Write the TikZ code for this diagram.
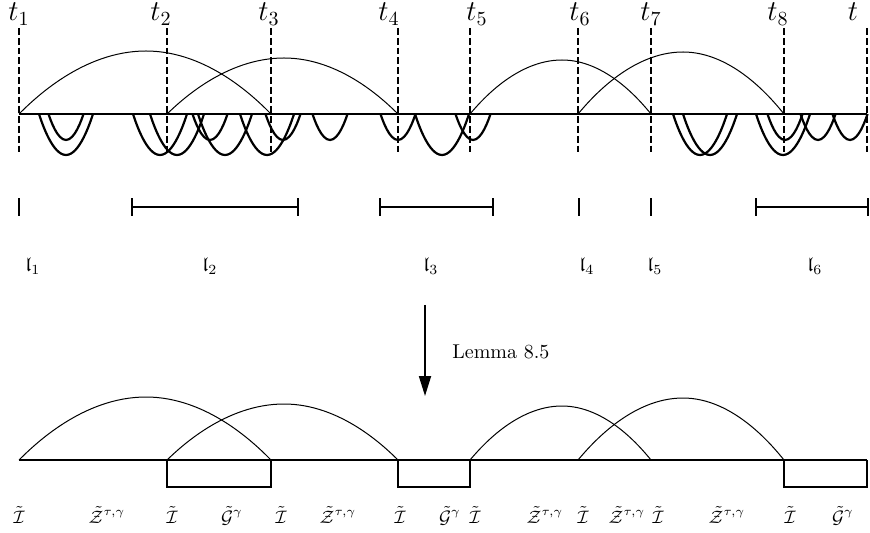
\documentclass[tikz,border=0pt]{standalone}
\usepackage{amsmath,amssymb}
\usetikzlibrary{arrows.meta}
\begin{document}
\begin{tikzpicture}[x=0.5pt,y=-0.5pt,
  dashline/.style={line width=0.8pt, dash pattern=on 3.4pt off 1.5pt},
  bigarc/.style={line width=0.5pt},
  smallarc/.style={line width=1.1pt},
  baseln/.style={line width=0.9pt},
  seg/.style={line width=0.9pt},
  tlab/.style={anchor=base, inner sep=0pt, font=\Large},
  ilab/.style={anchor=base, inner sep=0pt, font=\normalsize},
  blab/.style={anchor=base, inner sep=0pt, font=\small},
  arrowln/.style={line width=0.9pt, -{Triangle[width=6pt,length=10pt]}}]
\useasboundingbox (0,0) rectangle (870,533);
% top baseline points
\foreach \n/\x in {1/19,2/167,3/271,4/398,5/470,6/578,7/651,8/784,9/867}{
  \coordinate (T\n) at (\x,114);
  \coordinate (D\n) at (\x,28);
  \coordinate (E\n) at (\x,152);
  \coordinate (B\n) at (\x,460);
  \coordinate (C\n) at (\x,487);
}
% dashed lines
\foreach \n in {1,...,9}{ \draw[dashline] (D\n) -- (E\n); }
% t labels
\foreach \n/\x/\t in {1/19/t_1,2/161/t_2,3/269/t_3,4/389/t_4,5/477/t_5,6/580/t_6,7/651/t_7,8/778/t_8,9/853/t}{
  \node[tlab] (tl\n) at (\x,21) {$\t$};
}
% baseline
\draw[baseln] (T1) -- (T9);
% big arcs top
\draw[bigarc] (T1) parabola bend (146,51) (T3);
\draw[bigarc] (T2) parabola bend (284,58) (T4);
\draw[bigarc] (T5) parabola bend (562,60) (T7);
\draw[bigarc] (T6) parabola bend (683,52) (T8);
% small arcs: deep
\foreach \c in {66,160,177,225,267,442,700,710,783}{
  \draw[smallarc] (\c-27,114) parabola bend (\c,155) (\c+27,114);
}
% small arcs: shallow
\foreach \c in {66,210,283,330,398,473,785,818,850}{
  \draw[smallarc] (\c-17.5,114) parabola bend (\c,140) (\c+17.5,114);
}
% intervals
\coordinate (L1) at (19,207);
\coordinate (L2a) at (132,207); \coordinate (L2b) at (298,207);
\coordinate (L3a) at (380,207); \coordinate (L3b) at (493,207);
\coordinate (L4) at (579,207);
\coordinate (L5) at (651,207);
\coordinate (L6a) at (756,207); \coordinate (L6b) at (868,207);
\foreach \p in {L1,L4,L5,L2a,L2b,L3a,L3b,L6a,L6b}{
  \draw[seg] ([yshift=4.3pt]\p) -- ([yshift=-4.3pt]\p);
}
\draw[seg] (L2a) -- (L2b);
\draw[seg] (L3a) -- (L3b);
\draw[seg] (L6a) -- (L6b);
\foreach \n/\x in {1/33,2/210,3/431,4/587,5/655,6/815}{
  \node[ilab] (il\n) at (\x,272) {$\mathfrak{l}_{\n}$};
}
% arrow
\coordinate (A1) at (425,305);
\coordinate (A2) at (425,396);
\draw[arrowln] (A1) -- (A2);
\node[anchor=west, inner sep=0pt] (lem) at (452,352) {Lemma 8.5};
% bottom diagram
\draw[baseln] (B1) -- (B9);
\draw[bigarc] (B1) parabola bend (146,397) (B3);
\draw[bigarc] (B2) parabola bend (284,404) (B4);
\draw[bigarc] (B5) parabola bend (562,406) (B7);
\draw[bigarc] (B6) parabola bend (683,398) (B8);
\draw[seg] (B2) -- (C2) -- (C3) -- (B3);
\draw[seg] (B4) -- (C4) -- (C5) -- (B5);
\draw[seg] (B8) -- (C8) -- (C9) -- (B9);
% bottom labels
\newcommand{\tI}{\tilde{\mathcal{I}}}
\newcommand{\tZ}{\tilde{\mathcal{Z}}^{\tau,\gamma}}
\newcommand{\tG}{\tilde{\mathcal{G}}^{\gamma}}
\node[blab] (b1) at (19,523) {$\tI$};
\node[blab] (b2) at (107,523) {$\tZ$};
\node[blab] (b3) at (172,523) {$\tI$};
\node[blab] (b4) at (232,523) {$\tG$};
\node[blab] (b5) at (281,523) {$\tI$};
\node[blab] (b6) at (338,523) {$\tZ$};
\node[blab] (b7) at (400,523) {$\tI$};
\node[blab] (b8) at (450,523) {$\tG$};
\node[blab] (b9) at (475,523) {$\tI$};
\node[blab] (b10) at (545,523) {$\tZ$};
\node[blab] (b11) at (583,523) {$\tI$};
\node[blab] (b12) at (627,523) {$\tZ$};
\node[blab] (b13) at (658,523) {$\tI$};
\node[blab] (b14) at (727,523) {$\tZ$};
\node[blab] (b15) at (790,523) {$\tI$};
\node[blab] (b16) at (843,523) {$\tG$};
\end{tikzpicture}
\end{document}
